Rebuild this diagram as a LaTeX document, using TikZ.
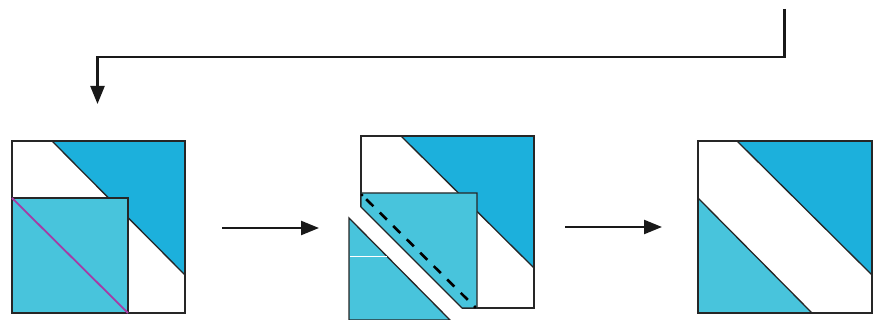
\documentclass[tikz,border=0pt]{standalone}
\usetikzlibrary{arrows.meta}
\definecolor{darkblue}{RGB}{28,176,220}
\definecolor{lightblue}{RGB}{72,196,220}
\definecolor{seam}{RGB}{165,60,165}
\tikzset{
  outline/.style={draw=black!85, line width=1.3},
  flow/.style={draw=black!90, line width=2.4, -{Triangle[length=18, width=14]}},
  stitch/.style={draw=black, line width=2.6, dash pattern=on 10 off 9, dash phase=-6},
}
\begin{document}
\begin{tikzpicture}[x=1pt,y=-1pt]
\useasboundingbox (0,0) rectangle (879,320);
% ---------- panel 1 ----------
\fill[white] (12,141) rectangle (185,313);
\filldraw[fill=darkblue, outline] (52,141) -- (185,141) -- (185,275) -- cycle;
\draw[outline] (12,141) rectangle (185,313);
\filldraw[fill=lightblue, outline] (12,198) rectangle (128,313);
\draw[seam, line width=1.8] (12,198) -- (128,313);
% ---------- panel 2 ----------
\fill[white] (361,136) rectangle (534,308);
\filldraw[fill=darkblue, outline] (401,136) -- (534,136) -- (534,268) -- cycle;
\draw[outline] (361,207) -- (361,136) -- (534,136) -- (534,308) -- (462,308);
\filldraw[fill=lightblue, outline] (361,193) -- (477,193) -- (477,308) -- (462,308) -- (361,207) -- cycle;
\filldraw[fill=lightblue, outline] (349,218) -- (450,320) -- (349,320) -- cycle;
\draw[white, line width=0.8] (350,256) -- (387,256);
\draw[stitch] (362,195) -- (475,307);
\fill[black] (362,195) circle (1.6) (475,307) circle (1.6);
% ---------- panel 3 ----------
\fill[white] (698,141) rectangle (872,313);
\filldraw[fill=darkblue, outline] (737,141) -- (872,141) -- (872,275) -- cycle;
\filldraw[fill=lightblue, outline] (698,198) -- (812,313) -- (698,313) -- cycle;
\draw[outline] (698,141) rectangle (872,313);
% ---------- arrows ----------
\coordinate (topstart) at (784.5,9);
\coordinate (topbend) at (784.5,57);
\coordinate (leftbend) at (97.5,57);
\coordinate (toptip) at (97.5,104);
\draw[flow] (topstart) -- (topbend) -- (leftbend) -- (toptip);
\coordinate (a1s) at (222,228);
\coordinate (a1e) at (319,228);
\coordinate (a2s) at (565,227);
\coordinate (a2e) at (662,227);
\draw[flow] (a1s) -- (a1e);
\draw[flow] (a2s) -- (a2e);
\end{tikzpicture}
\end{document}
